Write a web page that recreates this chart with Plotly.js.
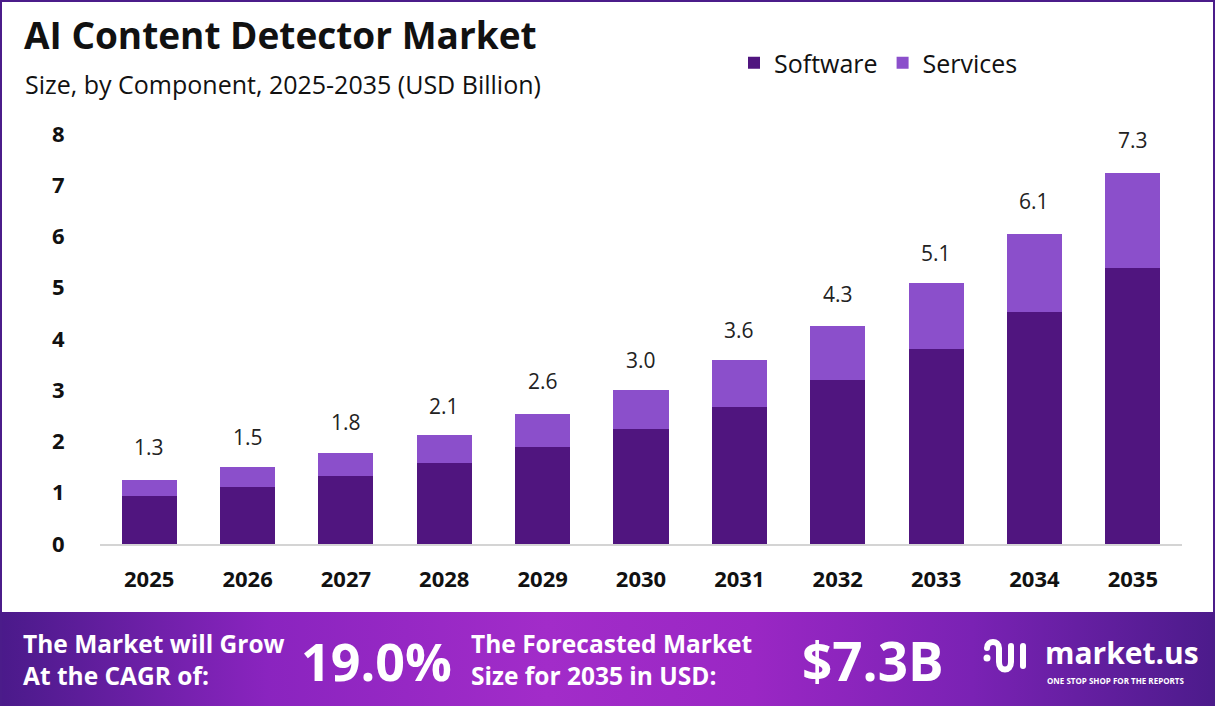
<!DOCTYPE html>
<html>
<head>
<meta charset="utf-8">
<script src="https://cdn.plot.ly/plotly-3.0.1.min.js"></script>
<style>
  html, body { margin: 0; padding: 0; background: #ffffff; }
  #wrap { position: relative; width: 1215px; height: 706px; overflow: hidden; background: #ffffff; }
  #banner { position: absolute; left: 0; top: 612px; width: 1215px; height: 94px;
    background: linear-gradient(90deg, #4a1a8a 0%, #8a24bf 22%, #a22cc9 45%, #9a27c4 62%, #7a22b4 80%, #4c1b8b 100%); }
  #chart { position: absolute; left: 0; top: 0; width: 1215px; height: 706px; }
  #frame { position: absolute; left: 0; top: 0; width: 1215px; height: 706px; box-sizing: border-box;
    border: 2px solid #4b1c8a; border-bottom: none; pointer-events: none; }
  #logo { position: absolute; left: 982px; top: 636px; width: 52px; height: 44px; pointer-events: none; }
</style>
</head>
<body>
<div id="wrap">
  <div id="banner"></div>
  <div id="chart"></div>
  <svg id="logo" viewBox="0 0 52 44">
    <circle cx="5" cy="22" r="3.5" fill="#ffffff"/>
    <path d="M5 12 C 5 4, 17 4, 17 12 L 17 26 C 17 36, 29 36, 29 26 L 29 10" fill="none" stroke="#ffffff" stroke-width="6" stroke-linecap="round"/>
    <line x1="41" y1="10" x2="41" y2="30" stroke="#ffffff" stroke-width="6" stroke-linecap="round"/>
  </svg>
  <div id="frame"></div>
</div>
<script>
const years = ['2025','2026','2027','2028','2029','2030','2031','2032','2033','2034','2035'];
const software = [0.94, 1.11, 1.33, 1.58, 1.89, 2.24, 2.68, 3.20, 3.80, 4.53, 5.39];
const services = [0.31, 0.39, 0.45, 0.55, 0.65, 0.76, 0.91, 1.06, 1.29, 1.52, 1.84];
const totals   = [1.3, 1.5, 1.8, 2.1, 2.6, 3.0, 3.6, 4.3, 5.1, 6.1, 7.3];
const yTicks = [0, 1, 2, 3, 4, 5, 6, 7, 8];

const FONT = '"Open Sans", "Noto Sans", sans-serif';

const traces = [
  { type: 'bar', name: 'Software', x: years, y: software,
    marker: { color: '#50157f' }, hoverinfo: 'x+y' },
  { type: 'bar', name: 'Services', x: years, y: services,
    marker: { color: '#8b4fcb' }, hoverinfo: 'x+y' }
];

const totalLabels = years.map((yr, i) => ({
  x: i, y: totals[i], xref: 'x', yref: 'y', text: totals[i].toFixed(1),
  showarrow: false, yanchor: 'bottom', yshift: 14,
  font: { family: FONT, size: 21, color: '#222222' }
}));

// paper coords helpers: plot area x 100..1182, y 134..544
const px = v => (v - 100) / 1082;
const py = v => (544 - v) / 410;

const bannerText = [
  { x: px(21), y: py(659), text: '<b>The Market will Grow<br>At the CAGR of:</b>', xanchor: 'left', align: 'left',
    font: { family: FONT, size: 24.5, color: '#ffffff' } },
  { x: px(376), y: py(660), text: '<b>19.0%</b>', xanchor: 'center',
    font: { family: FONT, size: 52, color: '#ffffff' } },
  { x: px(469), y: py(659), text: '<b>The Forecasted Market<br>Size for 2035 in USD:</b>', xanchor: 'left', align: 'left',
    font: { family: FONT, size: 24.5, color: '#ffffff' } },
  { x: px(873), y: py(660), text: '<b>$7.3B</b>', xanchor: 'center',
    font: { family: FONT, size: 53, color: '#ffffff' } },
  { x: px(1043), y: py(652), text: '<b>market.us</b>', xanchor: 'left',
    font: { family: FONT, size: 30, color: '#ffffff' } },
  { x: px(1045), y: py(680), text: '<b>ONE STOP SHOP FOR THE REPORTS</b>', xanchor: 'left',
    font: { family: FONT, size: 8, color: '#ffffff' } }
].map(a => Object.assign({ xref: 'paper', yref: 'paper', showarrow: false, yanchor: 'middle' }, a));

const subtitle = { xref: 'paper', yref: 'paper', x: px(23), y: py(84), xanchor: 'left', yanchor: 'middle',
  showarrow: false, text: 'Size, by Component, 2025-2035 (USD Billion)',
  font: { family: FONT, size: 25, color: '#111111' } };

const layout = {
  width: 1215, height: 706,
  paper_bgcolor: 'rgba(0,0,0,0)', plot_bgcolor: 'rgba(0,0,0,0)',
  margin: { l: 100, r: 33, t: 134, b: 162 },
  barmode: 'stack', bargap: 0.44,
  font: { family: FONT },
  title: { text: '<b>AI Content Detector Market</b>', x: 24 / 1215, xref: 'container', xanchor: 'left',
    y: 1 - 36 / 706, yref: 'container', yanchor: 'middle',
    font: { family: FONT, size: 37, color: '#111111' } },
  showlegend: true,
  legend: { orientation: 'h', x: px(734), y: py(63), xanchor: 'left', yanchor: 'middle',
    font: { family: FONT, size: 25, color: '#111111' }, traceorder: 'normal', itemwidth: 30 },
  xaxis: { type: 'category', range: [-0.5, 10.5], showgrid: false, zeroline: false, showline: true,
    linecolor: '#d4d4d4', linewidth: 2,
    ticks: 'outside', ticklen: 15, tickcolor: 'rgba(0,0,0,0)',
    tickfont: { family: FONT, size: 22, color: '#111111', weight: 'bold' }, fixedrange: true },
  yaxis: { range: [0, 8], tickvals: yTicks, ticktext: yTicks.map(String), showgrid: false, zeroline: false, showline: false,
    ticks: 'outside', ticklen: 30, tickcolor: 'rgba(0,0,0,0)',
    tickfont: { family: FONT, size: 22, color: '#111111', weight: 'bold' }, fixedrange: true },
  annotations: totalLabels.concat(bannerText, [subtitle])
};

Plotly.newPlot('chart', traces, layout, { displayModeBar: false, staticPlot: true });
</script>
</body>
</html>
